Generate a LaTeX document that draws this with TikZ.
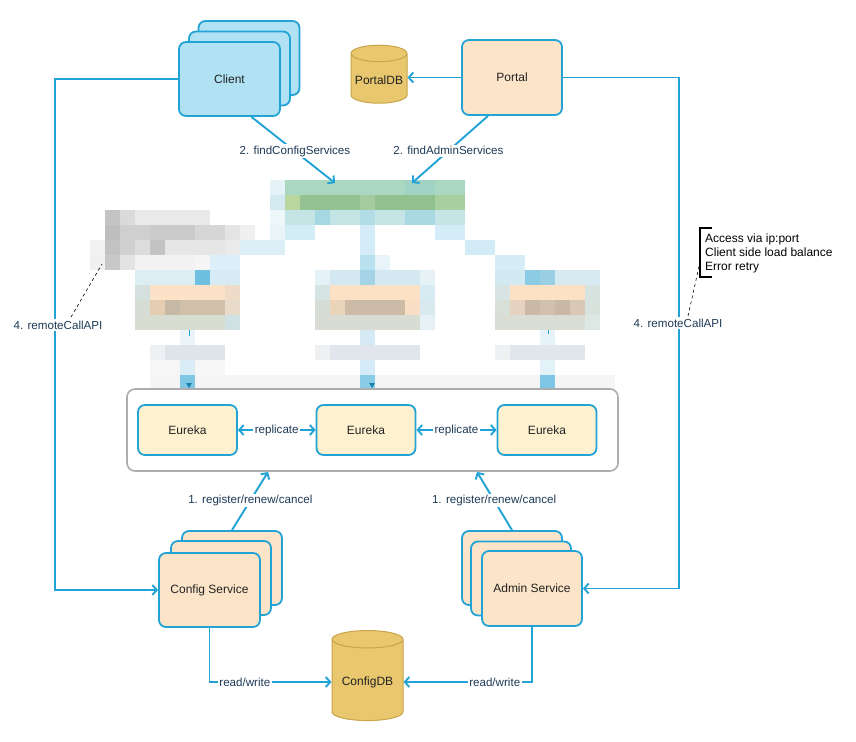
\documentclass[tikz,border=0pt]{standalone}
\usepackage{fontspec}
\setmainfont{Liberation Sans}
\usetikzlibrary{arrows.meta,shapes.geometric,calc}
\definecolor{blueS}{HTML}{22A3D6}
\definecolor{clientF}{HTML}{B0E2F4}
\definecolor{peachF}{HTML}{FCE4C8}
\definecolor{eurF}{HTML}{FDF1CF}
\definecolor{dbF}{HTML}{E8C76E}
\definecolor{dbS}{HTML}{C9A448}
\definecolor{contS}{HTML}{ADADAD}
\definecolor{lblC}{HTML}{1E3A56}
\definecolor{txtC}{HTML}{222222}
\newcommand\mrow[4]{\definecolor{mtmp}{HTML}{#4}\fill[mtmp] ({#2*15},{#1*15}) rectangle ({(#3+1)*15},{(#1+1)*15});}
\tikzset{
  box/.style={draw=blueS, line width=1.8pt, rounded corners=7pt, text=txtC, font=\fontsize{12}{14}\selectfont},
  clientbox/.style={box, fill=clientF, minimum width=101pt, minimum height=74pt},
  peachbox/.style={box, fill=peachF, minimum width=101pt, minimum height=74pt},
  eurbox/.style={box, fill=eurF, minimum width=99pt, minimum height=50pt},
  dbnode/.style={cylinder, shape border rotate=90, aspect=0.3, draw=dbS, line width=1pt, fill=dbF, text=txtC, font=\fontsize{12}{14}\selectfont},
  conn/.style={draw=blueS, line width=1.9pt, -{Straight Barb[length=4.5pt,width=10pt]}},
  lbl/.style={fill=white, inner sep=1.5pt, text=lblC, font=\fontsize{11.6}{13}\selectfont},
}
\begin{document}
\begin{tikzpicture}[x=1pt,y=-1pt]
\useasboundingbox (0,0) rectangle (856,741);
\fill[white] (0,0) rectangle (856,741);
% ---------------- mosaic (obscured area) ----------------
% green block
\mrow{12}{18}{18}{E5F3F8}\mrow{12}{19}{30}{A9D7BF}\mrow{12}{27}{28}{A0D3C4}
\mrow{13}{18}{18}{D2EAF0}\mrow{13}{19}{19}{B8D69E}\mrow{13}{20}{23}{94C292}
\mrow{13}{24}{24}{A5CBA0}\mrow{13}{25}{28}{92C08F}\mrow{13}{29}{30}{A8CFA0}
\mrow{14}{18}{18}{EEF7FA}\mrow{14}{19}{30}{C4E4E6}\mrow{14}{21}{21}{A6D8E4}
\mrow{14}{24}{24}{B3DDE6}\mrow{14}{27}{28}{A9D9E3}
\mrow{15}{18}{18}{EAF5FA}\mrow{15}{19}{20}{D3EDF7}\mrow{15}{24}{24}{D3ECF7}
\mrow{15}{29}{30}{D3ECF7}
\mrow{16}{16}{18}{DCEFF7}\mrow{16}{24}{24}{D3ECF7}\mrow{16}{31}{32}{D3EBF6}
\mrow{17}{24}{24}{B9E0EF}\mrow{17}{25}{25}{E8F4F9}\mrow{17}{33}{34}{D6ECF7}
% gray note block
\mrow{14}{7}{7}{C4C4C4}\mrow{14}{8}{8}{DADADA}\mrow{14}{9}{13}{E9E9E9}
\mrow{15}{7}{7}{BEBEBE}\mrow{15}{8}{9}{CFCFCF}\mrow{15}{10}{12}{CACACA}
\mrow{15}{13}{14}{D6D6D6}\mrow{15}{15}{15}{E4E4E4}\mrow{15}{16}{16}{EFEFEF}
\mrow{16}{6}{6}{F2F2F2}\mrow{16}{7}{7}{C2C2C2}\mrow{16}{8}{8}{D0D0D0}
\mrow{16}{9}{9}{DCDCDC}\mrow{16}{10}{10}{C3C3C3}\mrow{16}{11}{14}{E6E6E6}
\mrow{16}{15}{15}{EBEBEB}
\mrow{17}{6}{6}{F0F0F0}\mrow{17}{7}{7}{C8C8C8}\mrow{17}{8}{8}{E3E3E3}
\mrow{17}{9}{12}{F2F2F2}\mrow{17}{13}{13}{F5F5F5}\mrow{17}{14}{15}{DCEEF7}
% left box
\mrow{18}{9}{12}{DCEDF4}\mrow{18}{13}{13}{6FC0E0}\mrow{18}{14}{15}{D6EBF4}
\mrow{19}{9}{9}{D4E0DD}\mrow{19}{10}{14}{FCE2C6}\mrow{19}{15}{15}{EEDCC9}
\mrow{20}{9}{9}{D6DDD4}\mrow{20}{10}{10}{E4CDB1}\mrow{20}{11}{11}{C5B8A4}
\mrow{20}{12}{14}{D0BFA9}\mrow{20}{15}{15}{E9DBCA}
\mrow{21}{9}{14}{D8DDD2}\mrow{21}{15}{15}{D0E1E3}
\mrow{22}{12}{12}{EAF4F9}
\mrow{23}{10}{10}{EEF0F3}\mrow{23}{11}{14}{DFE4EB}
\mrow{24}{10}{11}{F6F6F6}\mrow{24}{12}{12}{DAEDF7}\mrow{24}{13}{14}{F6F6F6}
% middle box
\mrow{18}{21}{21}{E4F1F6}\mrow{18}{22}{23}{D3E8F0}\mrow{18}{24}{24}{A4D3E6}
\mrow{18}{25}{27}{D3E8F0}\mrow{18}{28}{28}{E6F2F6}
\mrow{19}{21}{21}{D6E4E4}\mrow{19}{22}{27}{FCE1C4}\mrow{19}{28}{28}{D7EBF3}
\mrow{20}{21}{21}{D6DDD6}\mrow{20}{22}{22}{EBD5BA}\mrow{20}{23}{26}{CBBBA7}
\mrow{20}{27}{27}{F8DEC3}\mrow{20}{28}{28}{D8E9EF}
\mrow{21}{21}{27}{D8DCD3}\mrow{21}{28}{28}{E6F1F6}
\mrow{22}{24}{24}{D5EAF5}
\mrow{23}{21}{21}{EEF0F2}\mrow{23}{22}{27}{E1E6EC}
\mrow{24}{24}{24}{D5EBF7}
% right box
\mrow{18}{33}{34}{D3E9F1}\mrow{18}{35}{35}{8BCBE3}\mrow{18}{36}{36}{9ACFE3}
\mrow{18}{37}{39}{D7EAF1}
\mrow{19}{33}{33}{D8E3E3}\mrow{19}{34}{38}{FCE1C4}\mrow{19}{39}{39}{D7E3DE}
\mrow{20}{33}{33}{D7DFD7}\mrow{20}{34}{34}{E5D3BF}\mrow{20}{35}{35}{C9B9A6}
\mrow{20}{36}{36}{D2C1AE}\mrow{20}{37}{37}{C8B8A5}\mrow{20}{38}{38}{D9C8B5}
\mrow{20}{39}{39}{D9E3DD}
\mrow{21}{33}{38}{D9DDD3}\mrow{21}{39}{39}{DDE8E4}
\mrow{22}{36}{36}{E6F3F9}
\mrow{23}{33}{33}{EEF0F2}\mrow{23}{34}{38}{E1E6EC}
\mrow{24}{36}{36}{E3F1F8}
% bottom strip
\mrow{25}{10}{40}{F5F5F5}
\mrow{25}{12}{12}{80C7E6}\mrow{25}{24}{24}{8ACBE8}\mrow{25}{36}{36}{7EC6E6}
\draw[blueS, line width=1pt] (189,330) -- (189,336);
\draw[blueS, line width=1pt] (548,330) -- (548,334);
\fill[blueS!80!black] (186,383) -- (192,383) -- (189,388) -- cycle;
\fill[blueS!80!black] (369,383) -- (375,383) -- (372,388) -- cycle;
\coordinate (meta1) at (335,183);
\coordinate (meta2) at (412,183);
\coordinate (gnote) at (102,264);
% ---------------- Eureka cluster ----------------
\node[draw=contS, line width=1.6pt, rounded corners=8pt, minimum width=491pt, minimum height=82pt] (eur) at (372.5,430) {};
\node[eurbox] (e1) at (187.5,430) {Eureka};
\node[eurbox] (e2) at (366,430) {Eureka};
\node[eurbox] (e3) at (547,430) {Eureka};
\draw[conn, {Straight Barb[length=4.5pt,width=10pt]}-{Straight Barb[length=4.5pt,width=10pt]}] (e1.east) -- (e2.west) node[midway, lbl] {replicate};
\draw[conn, {Straight Barb[length=4.5pt,width=10pt]}-{Straight Barb[length=4.5pt,width=10pt]}] (e2.east) -- (e3.west) node[midway, lbl] {replicate};
% ---------------- Client ----------------
\node[clientbox] (clientb2) at (249,58) {};
\node[clientbox] (clientb1) at (239.5,68.5) {};
\node[clientbox] (client) at (229.5,79) {Client};
% ---------------- Portal ----------------
\node[peachbox, minimum width=100pt, minimum height=75pt] (portal) at (512,77.5) {Portal};
\node[dbnode, minimum width=56pt, minimum height=58pt] (portaldb) at (379,80.5) {PortalDB};
\draw[conn] (portal.west) -- (portal.west -| portaldb.east);
% ---------------- Config Service ----------------
\node[peachbox, minimum width=100pt] (configb2) at (232,568) {};
\node[peachbox, minimum width=100pt] (configb1) at (221,578) {};
\node[peachbox] (config) at (209.5,590) {Config Service};
% ---------------- Admin Service ----------------
\node[peachbox, minimum width=100pt] (adminb2) at (512,568) {};
\node[peachbox, minimum width=100pt] (adminb1) at (521,578.5) {};
\node[peachbox, minimum width=100pt, minimum height=75pt] (admin) at (532,588.5) {Admin Service};
% ---------------- ConfigDB ----------------
\node[dbnode, minimum width=71pt, minimum height=90pt] (configdb) at (367.5,682) {ConfigDB};
% ---------------- connectors ----------------
\draw[conn] ($(client.south)+(22,0)$) -- (meta1) node[pos=0.52, lbl] {2. findConfigServices};
\draw[conn] ($(portal.south)+(-24,0)$) -- (meta2) node[pos=0.52, lbl] {2. findAdminServices};
\coordinate (reg1) at (268,472);
\coordinate (reg2) at (477,472);
\draw[conn] (configb2.north) -- (reg1) node[pos=0.51, lbl] {1. register/renew/cancel};
\draw[conn] (adminb2.north) -- (reg2) node[pos=0.51, lbl] {1. register/renew/cancel};
\draw[conn] (config.south) |- (configdb.west) node[pos=0.645, lbl] {read/write};
\draw[conn] (admin.south) |- (configdb.east) node[pos=0.645, lbl] {read/write};
\draw[conn] (client.west) -- ++(-123,0) |- (config.west);
\draw[conn] (portal.east) -- ++(116,0) |- (admin.east);
\node[lbl] (rcl) at (58,325) {4. remoteCallAPI};
\node[lbl] (rcr) at (678,323) {4. remoteCallAPI};
\draw[dashed, line width=0.6pt] ($(rcl.north)+(13,-2)$) -- (gnote);
% note
\node[anchor=west, align=left, inner sep=0pt, font=\fontsize{12}{14}\selectfont, text=black] (note) at (705,253) {Access via ip:port\\Client side load balance\\Error retry};
\draw[line width=2pt] (712,228) -- (700,228) -- (700,277) -- (712,277);
\coordinate (bk) at (700,262);
\draw[dashed, line width=0.6pt] ($(rcr.north)+(10,-1)$) -- (bk);
\end{tikzpicture}
\end{document}
